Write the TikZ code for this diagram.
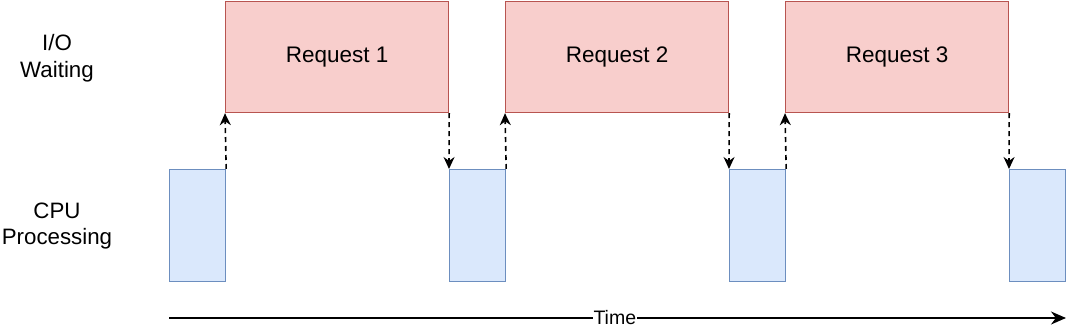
\documentclass[tikz,border=0pt]{standalone}
\usepackage{fontspec}
\setmainfont{Liberation Sans}
\usetikzlibrary{arrows.meta}
\definecolor{redfill}{HTML}{F8CECC}
\definecolor{redline}{HTML}{B85450}
\definecolor{bluefill}{HTML}{DAE8FC}
\definecolor{blueline}{HTML}{6C8EBF}
\begin{document}
\begin{tikzpicture}[x=1pt,y=-1pt,
  iobox/.style={draw=redline,fill=redfill,line width=1.2pt,minimum width=223pt,minimum height=111pt,inner sep=0pt,anchor=north west,font=\fontsize{22.5}{27}\selectfont},
  cpubox/.style={draw=blueline,fill=bluefill,line width=1.2pt,minimum width=56pt,minimum height=112pt,inner sep=0pt,anchor=north west},
  lbl/.style={align=center,font=\fontsize{22.3}{26.5}\selectfont},
  link/.style={dashed,line width=1.6pt,dash pattern=on 5pt off 4pt,-{Stealth[length=12pt,width=11pt]}},
]
\useasboundingbox (0,0) rectangle (1080,334);
\node[lbl] (lio) at (57,58) {I/O\\Waiting};
\node[lbl] (lcpu) at (57,226) {CPU\\Processing};
\node[iobox] (r1) at (225,1) {Request 1};
\node[iobox] (r2) at (505,1) {Request 2};
\node[iobox] (r3) at (785,1) {Request 3};
\node[cpubox] (c1) at (169,169) {};
\node[cpubox] (c2) at (449,169) {};
\node[cpubox] (c3) at (729,169) {};
\node[cpubox] (c4) at (1009,169) {};
\draw[link] (c1.north east) -- (r1.south west);
\draw[link] (r1.south east) -- (c2.north west);
\draw[link] (c2.north east) -- (r2.south west);
\draw[link] (r2.south east) -- (c3.north west);
\draw[link] (c3.north east) -- (r3.south west);
\draw[link] (r3.south east) -- (c4.north west);
\coordinate (t0) at (169,318);
\coordinate (t1) at (1066,318);
\draw[line width=1.5pt,-{Stealth[length=15pt,width=13pt]}] (t0) -- (t1) node[pos=0.497,fill=white,inner sep=1pt,font=\fontsize{19.5}{23}\selectfont] (time) {Time};
\end{tikzpicture}
\end{document}
